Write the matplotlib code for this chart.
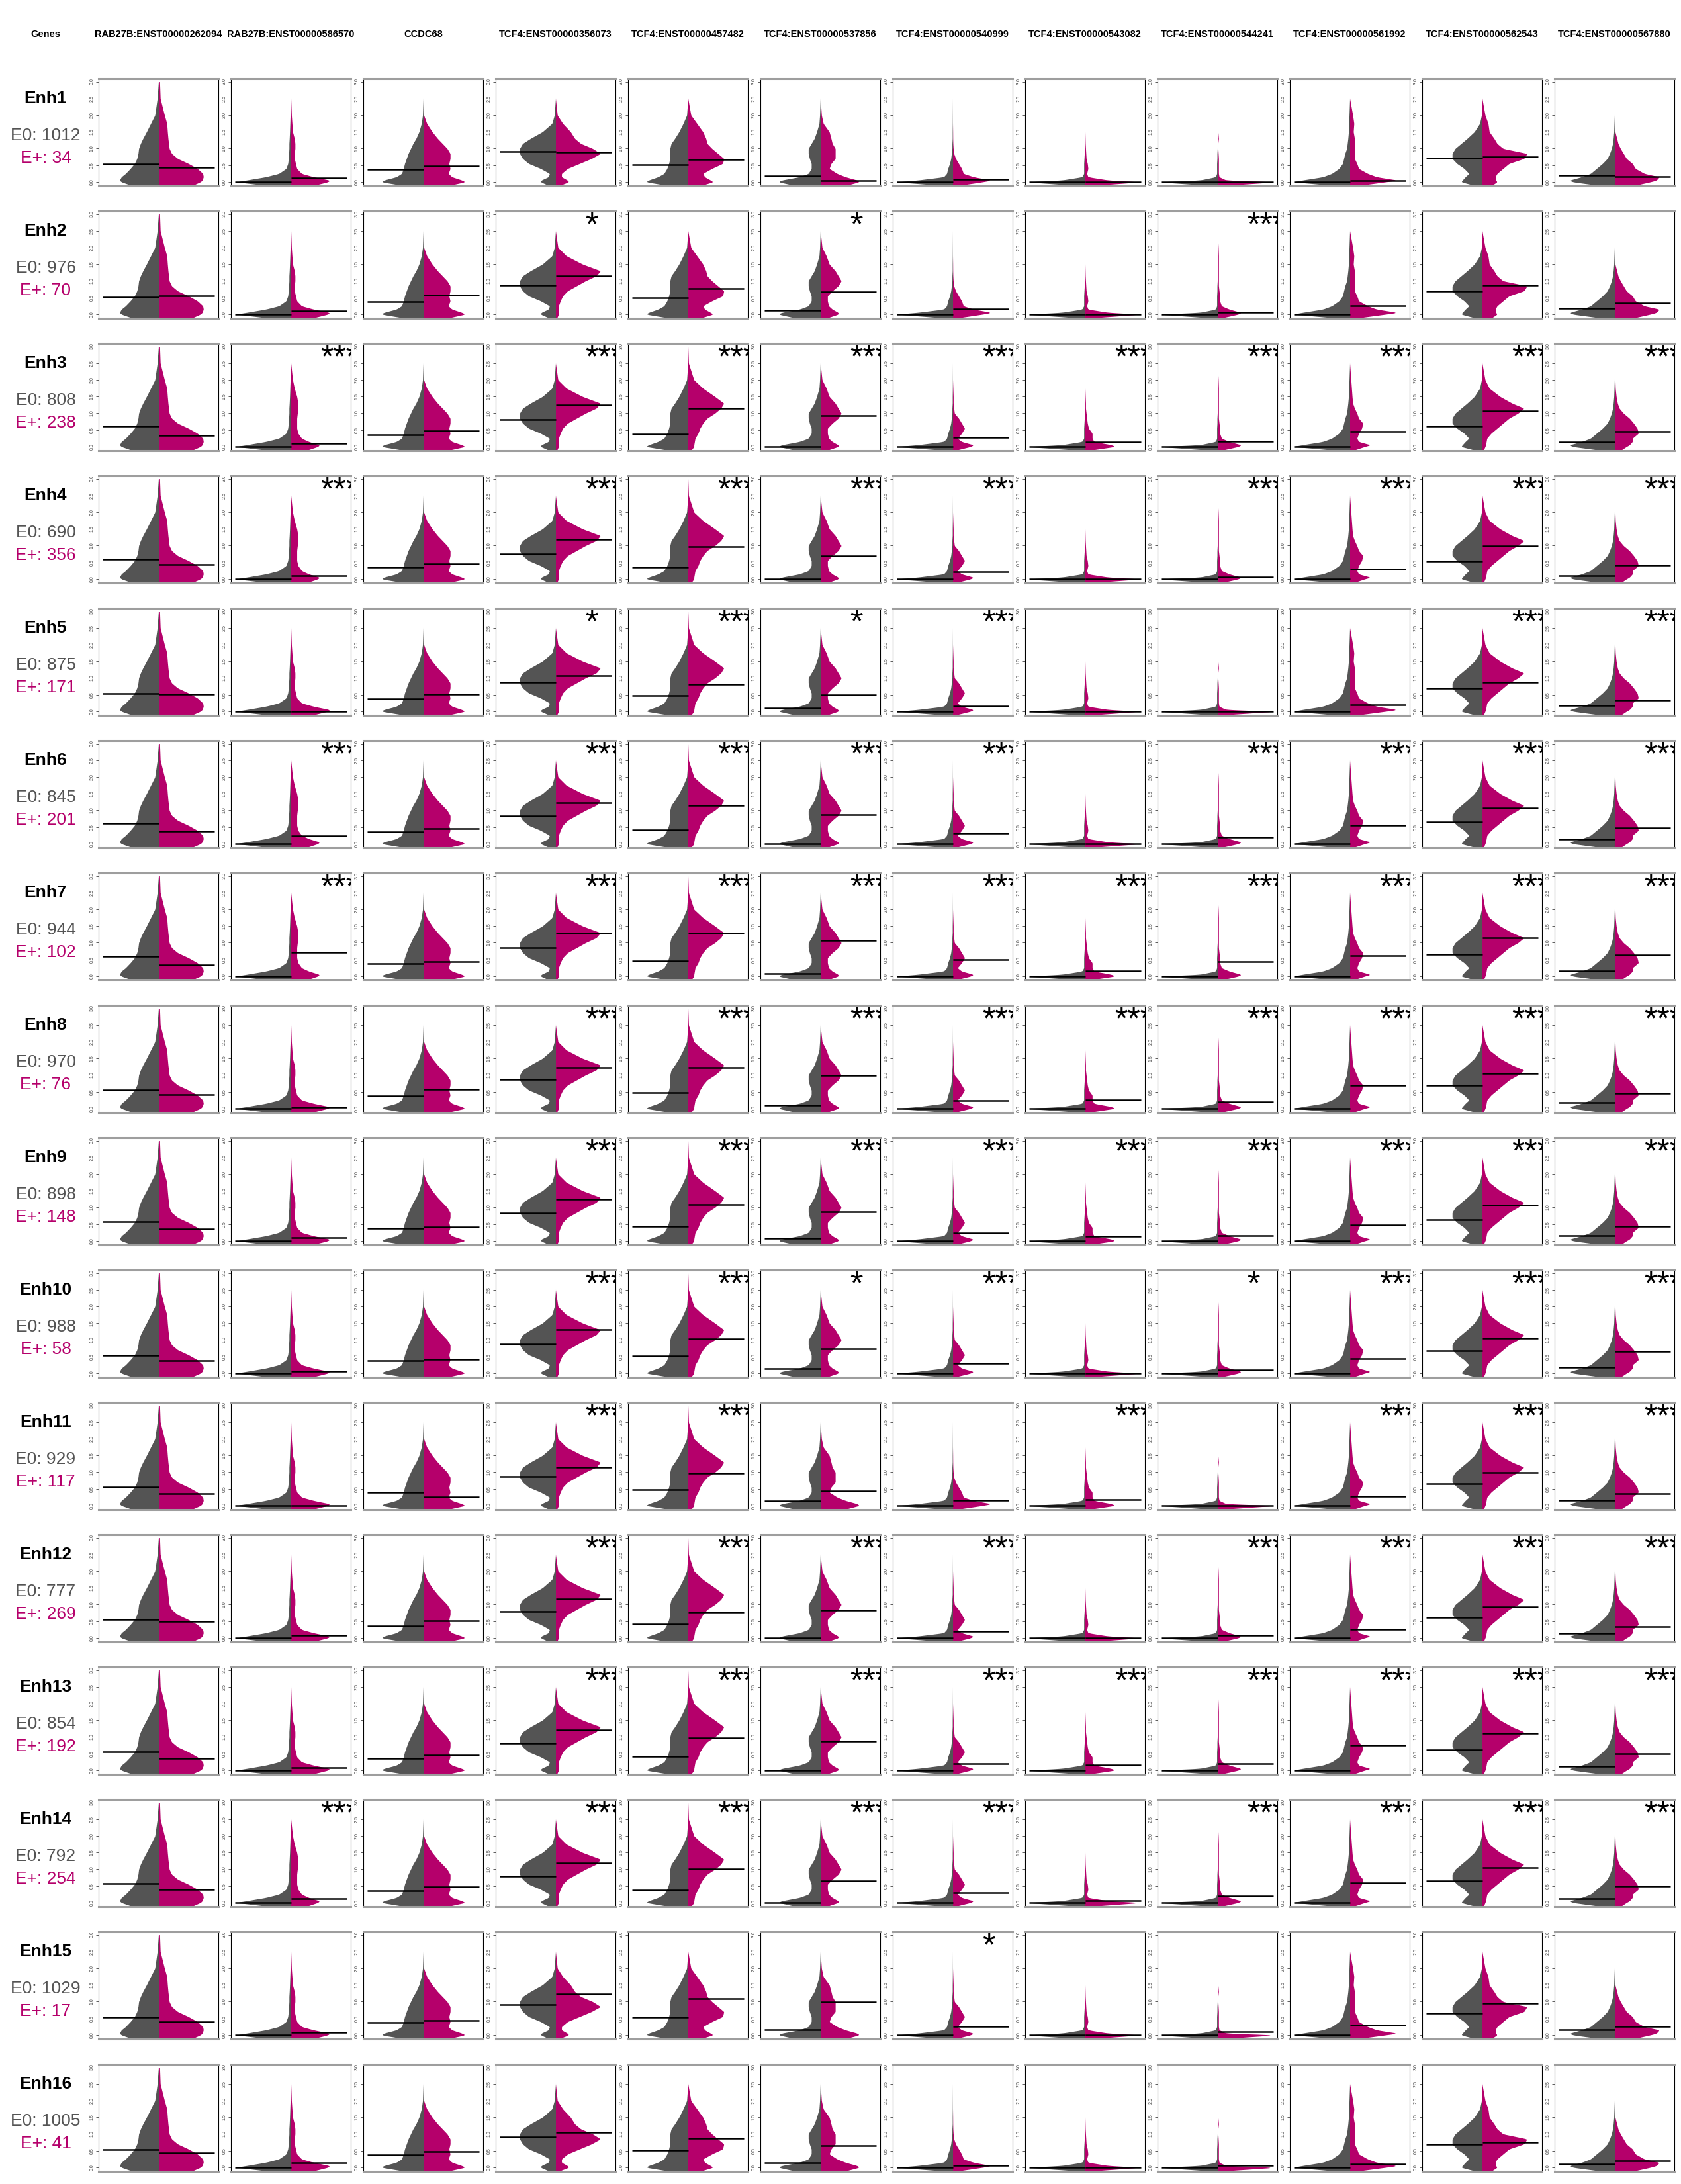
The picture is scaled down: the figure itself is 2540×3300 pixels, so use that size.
import matplotlib
matplotlib.use("Agg")
import matplotlib.pyplot as plt
import numpy as np

plt.rcParams['font.family'] = ['Liberation Sans', 'DejaVu Sans']

# ---- data ----
genes = ["RAB27B:ENST00000262094", "RAB27B:ENST00000586570", "CCDC68",
         "TCF4:ENST00000356073", "TCF4:ENST00000457482", "TCF4:ENST00000537856",
         "TCF4:ENST00000540999", "TCF4:ENST00000543082", "TCF4:ENST00000544241",
         "TCF4:ENST00000561992", "TCF4:ENST00000562543", "TCF4:ENST00000567880"]

enhancers = ["Enh1", "Enh2", "Enh3", "Enh4", "Enh5", "Enh6", "Enh7", "Enh8",
             "Enh9", "Enh10", "Enh11", "Enh12", "Enh13", "Enh14", "Enh15", "Enh16"]
n_e0 = [1012, 976, 808, 690, 875, 845, 944, 970, 898, 988, 929, 777, 854, 792, 1029, 1005]
n_eplus = [34, 70, 238, 356, 171, 201, 102, 76, 148, 58, 117, 269, 192, 254, 17, 41]

# mean expression of E0 cells (horizontal line, left half)
mean_e0 = [
    [0.53, 0, 0.38, 0.91, 0.52, 0.17, 0, 0, 0, 0, 0.71, 0.20],
    [0.52, 0, 0.37, 0.88, 0.50, 0.11, 0, 0, 0, 0, 0.69, 0.18],
    [0.62, 0, 0.35, 0.81, 0.38, 0.00, 0, 0, 0, 0, 0.61, 0.13],
    [0.59, 0, 0.36, 0.75, 0.36, 0.00, 0, 0, 0, 0, 0.53, 0.10],
    [0.54, 0, 0.38, 0.88, 0.47, 0.10, 0, 0, 0, 0, 0.69, 0.17],
    [0.61, 0, 0.36, 0.83, 0.42, 0.00, 0, 0, 0, 0, 0.65, 0.14],
    [0.59, 0, 0.37, 0.86, 0.46, 0.08, 0, 0, 0, 0, 0.66, 0.16],
    [0.55, 0, 0.37, 0.88, 0.48, 0.10, 0, 0, 0, 0, 0.69, 0.17],
    [0.57, 0, 0.37, 0.84, 0.43, 0.08, 0, 0, 0, 0, 0.64, 0.15],
    [0.54, 0, 0.38, 0.88, 0.51, 0.13, 0, 0, 0, 0, 0.68, 0.17],
    [0.55, 0, 0.40, 0.87, 0.47, 0.14, 0, 0, 0, 0, 0.66, 0.16],
    [0.55, 0, 0.35, 0.79, 0.42, 0.00, 0, 0, 0, 0, 0.62, 0.14],
    [0.56, 0, 0.36, 0.82, 0.41, 0.00, 0, 0, 0, 0, 0.62, 0.12],
    [0.58, 0, 0.36, 0.80, 0.38, 0.00, 0, 0, 0, 0, 0.65, 0.12],
    [0.54, 0, 0.38, 0.91, 0.53, 0.15, 0, 0, 0, 0, 0.65, 0.15],
    [0.53, 0, 0.38, 0.91, 0.52, 0.14, 0, 0, 0, 0, 0.70, 0.10],
]

# mean expression of E+ cells (horizontal line, right half)
mean_eplus = [
    [0.43, 0.11, 0.48, 0.90, 0.67, 0.03, 0.07, 0.00, 0.00, 0.04, 0.76, 0.16],
    [0.56, 0.10, 0.57, 1.15, 0.78, 0.67, 0.16, 0.00, 0.06, 0.26, 0.88, 0.34],
    [0.33, 0.10, 0.47, 1.24, 1.15, 0.93, 0.28, 0.13, 0.16, 0.46, 1.06, 0.45],
    [0.43, 0.10, 0.45, 1.18, 0.97, 0.70, 0.22, 0.00, 0.06, 0.30, 0.98, 0.42],
    [0.51, 0.00, 0.51, 1.07, 0.82, 0.50, 0.16, 0.00, 0.00, 0.19, 0.87, 0.33],
    [0.38, 0.24, 0.45, 1.23, 1.15, 0.87, 0.31, 0.00, 0.20, 0.55, 1.06, 0.47],
    [0.33, 0.72, 0.43, 1.29, 1.29, 1.06, 0.49, 0.16, 0.43, 0.61, 1.15, 0.63],
    [0.41, 0.04, 0.58, 1.22, 1.22, 0.99, 0.23, 0.26, 0.19, 0.70, 1.05, 0.45],
    [0.35, 0.10, 0.42, 1.25, 1.08, 0.87, 0.23, 0.13, 0.16, 0.47, 1.07, 0.43],
    [0.37, 0.06, 0.42, 1.30, 1.03, 0.73, 0.29, 0.00, 0.09, 0.44, 1.05, 0.66],
    [0.35, 0.00, 0.26, 1.14, 0.97, 0.44, 0.15, 0.17, 0.00, 0.28, 0.98, 0.36],
    [0.49, 0.07, 0.51, 1.17, 0.77, 0.84, 0.19, 0.00, 0.08, 0.26, 0.94, 0.33],
    [0.35, 0.08, 0.45, 1.20, 0.96, 0.88, 0.20, 0.15, 0.20, 0.75, 1.10, 0.50],
    [0.40, 0.12, 0.47, 1.18, 1.00, 0.65, 0.30, 0.05, 0.20, 0.60, 1.05, 0.50],
    [0.39, 0.07, 0.43, 1.22, 1.08, 0.98, 0.25, 0.00, 0.10, 0.30, 0.95, 0.25],
    [0.43, 0.14, 0.47, 1.04, 0.88, 0.65, 0.05, 0.00, 0.05, 0.10, 0.75, 0.20],
]

# number of stars per cell (0, 1 or 3)
stars = [
    [0, 0, 0, 0, 0, 0, 0, 0, 0, 0, 0, 0],
    [0, 0, 0, 1, 0, 1, 0, 0, 3, 0, 0, 0],
    [0, 3, 0, 3, 3, 3, 3, 3, 3, 3, 3, 3],
    [0, 3, 0, 3, 3, 3, 3, 0, 3, 3, 3, 3],
    [0, 0, 0, 1, 3, 1, 3, 0, 0, 0, 3, 3],
    [0, 3, 0, 3, 3, 3, 3, 0, 3, 3, 3, 3],
    [0, 3, 0, 3, 3, 3, 3, 3, 3, 3, 3, 3],
    [0, 0, 0, 3, 3, 3, 3, 3, 3, 3, 3, 3],
    [0, 0, 0, 3, 3, 3, 3, 3, 3, 3, 3, 3],
    [0, 0, 0, 3, 3, 1, 3, 0, 1, 3, 3, 3],
    [0, 0, 0, 3, 3, 0, 0, 3, 0, 3, 3, 3],
    [0, 0, 0, 3, 3, 3, 3, 0, 3, 3, 3, 3],
    [0, 0, 0, 3, 3, 3, 3, 3, 3, 3, 3, 3],
    [0, 3, 0, 3, 3, 3, 3, 0, 3, 3, 3, 3],
    [0, 0, 0, 0, 0, 0, 1, 0, 0, 0, 0, 0],
    [0, 0, 0, 0, 0, 0, 0, 0, 0, 0, 0, 0],
]

# violin half-widths (fraction of half a panel) at these expression levels
profile_y = [-0.12, 0.0, 0.05, 0.15, 0.25, 0.4, 0.55, 0.7, 0.85, 1.0,
             1.15, 1.3, 1.5, 1.75, 2.0, 2.5, 3.0]

width_e0 = [
    [0.43, 0.62, 0.65, 0.62, 0.55, 0.47, 0.40, 0.36, 0.34, 0.33, 0.30, 0.26, 0.20, 0.13, 0.06, 0.02, 0.0],
    [0.35, 0.92, 0.75, 0.42, 0.20, 0.08, 0.05, 0.04, 0.035, 0.03, 0.03, 0.025, 0.02, 0.015, 0.01, 0.0, 0.0],
    [0.30, 0.70, 0.66, 0.45, 0.36, 0.33, 0.31, 0.28, 0.25, 0.21, 0.17, 0.12, 0.07, 0.03, 0.01, 0.0, 0.0],
    [0.10, 0.25, 0.24, 0.12, 0.10, 0.25, 0.45, 0.55, 0.60, 0.60, 0.55, 0.42, 0.22, 0.06, 0.02, 0.0, 0.0],
    [0.30, 0.70, 0.66, 0.50, 0.40, 0.35, 0.32, 0.30, 0.30, 0.30, 0.28, 0.22, 0.15, 0.08, 0.02, 0.0, 0.0],
    [0.40, 0.70, 0.65, 0.35, 0.20, 0.15, 0.15, 0.18, 0.20, 0.20, 0.15, 0.10, 0.06, 0.02, 0.01, 0.0, 0.0],
    [0.10, 0.95, 0.60, 0.15, 0.10, 0.08, 0.05, 0.03, 0.02, 0.01, 0.01, 0.005, 0.005, 0.003, 0.002, 0.0, 0.0],
    [0.05, 1.00, 0.40, 0.05, 0.02, 0.02, 0.02, 0.015, 0.01, 0.01, 0.005, 0.005, 0.002, 0.0, 0.0, 0.0, 0.0],
    [0.05, 1.00, 0.30, 0.03, 0.01, 0.01, 0.01, 0.005, 0.005, 0.0, 0.0, 0.0, 0.0, 0.0, 0.0, 0.0, 0.0],
    [0.20, 0.95, 0.80, 0.45, 0.30, 0.18, 0.12, 0.10, 0.08, 0.05, 0.04, 0.03, 0.02, 0.015, 0.01, 0.0, 0.0],
    [0.10, 0.35, 0.33, 0.28, 0.22, 0.30, 0.42, 0.50, 0.50, 0.45, 0.35, 0.25, 0.13, 0.04, 0.01, 0.0, 0.0],
    [0.20, 0.70, 0.75, 0.55, 0.40, 0.30, 0.20, 0.12, 0.08, 0.05, 0.03, 0.02, 0.01, 0.005, 0.0, 0.0, 0.0],
]

# E+ shape when the difference is not significant
width_eplus_ns = [
    [0.55, 0.70, 0.73, 0.75, 0.74, 0.65, 0.50, 0.32, 0.22, 0.18, 0.17, 0.16, 0.15, 0.14, 0.10, 0.03, 0.02],
    [0.35, 0.62, 0.65, 0.38, 0.18, 0.10, 0.08, 0.06, 0.06, 0.07, 0.07, 0.06, 0.03, 0.02, 0.01, 0.0, 0.0],
    [0.40, 0.70, 0.65, 0.48, 0.42, 0.45, 0.43, 0.45, 0.45, 0.40, 0.32, 0.24, 0.15, 0.06, 0.01, 0.0, 0.0],
    [0.05, 0.22, 0.20, 0.10, 0.10, 0.20, 0.40, 0.60, 0.75, 0.62, 0.42, 0.32, 0.25, 0.12, 0.03, 0.0, 0.0],
    [0.20, 0.42, 0.38, 0.28, 0.25, 0.40, 0.58, 0.60, 0.50, 0.40, 0.32, 0.30, 0.25, 0.15, 0.05, 0.0, 0.0],
    [0.40, 0.65, 0.62, 0.42, 0.28, 0.15, 0.18, 0.25, 0.25, 0.25, 0.20, 0.18, 0.15, 0.05, 0.02, 0.0, 0.0],
    [0.05, 0.50, 0.65, 0.35, 0.18, 0.15, 0.10, 0.05, 0.02, 0.01, 0.005, 0.003, 0.002, 0.0, 0.0, 0.0, 0.0],
    [0.05, 0.95, 0.40, 0.05, 0.03, 0.05, 0.04, 0.02, 0.015, 0.01, 0.005, 0.003, 0.0, 0.0, 0.0, 0.0, 0.0],
    [0.02, 1.00, 0.15, 0.03, 0.02, 0.02, 0.02, 0.02, 0.015, 0.01, 0.01, 0.02, 0.01, 0.005, 0.003, 0.0, 0.0],
    [0.10, 0.60, 0.80, 0.45, 0.30, 0.15, 0.12, 0.08, 0.08, 0.08, 0.08, 0.08, 0.06, 0.07, 0.05, 0.0, 0.0],
    [0.15, 0.25, 0.23, 0.22, 0.25, 0.35, 0.45, 0.70, 0.75, 0.35, 0.25, 0.20, 0.12, 0.10, 0.05, 0.0, 0.0],
    [0.30, 0.60, 0.70, 0.75, 0.50, 0.35, 0.30, 0.20, 0.15, 0.10, 0.06, 0.04, 0.01, 0.005, 0.003, 0.002, 0.0],
]

# E+ shape when the difference is significant
width_eplus_sig = [
    [0.55, 0.70, 0.73, 0.75, 0.74, 0.65, 0.50, 0.32, 0.22, 0.18, 0.17, 0.16, 0.15, 0.14, 0.10, 0.03, 0.02],
    [0.25, 0.45, 0.48, 0.30, 0.18, 0.12, 0.10, 0.10, 0.10, 0.11, 0.12, 0.12, 0.10, 0.06, 0.03, 0.0, 0.0],
    [0.40, 0.70, 0.65, 0.48, 0.42, 0.45, 0.43, 0.45, 0.45, 0.40, 0.32, 0.24, 0.15, 0.06, 0.01, 0.0, 0.0],
    [0.02, 0.05, 0.05, 0.05, 0.05, 0.08, 0.12, 0.20, 0.35, 0.50, 0.68, 0.75, 0.45, 0.18, 0.04, 0.0, 0.0],
    [0.05, 0.10, 0.10, 0.11, 0.12, 0.17, 0.20, 0.25, 0.32, 0.45, 0.55, 0.60, 0.45, 0.25, 0.10, 0.01, 0.0],
    [0.10, 0.30, 0.30, 0.20, 0.14, 0.12, 0.12, 0.20, 0.30, 0.35, 0.30, 0.25, 0.15, 0.10, 0.03, 0.0, 0.0],
    [0.03, 0.30, 0.35, 0.15, 0.08, 0.15, 0.20, 0.15, 0.10, 0.03, 0.02, 0.01, 0.01, 0.005, 0.0, 0.0, 0.0],
    [0.05, 0.50, 0.45, 0.15, 0.12, 0.12, 0.06, 0.04, 0.03, 0.02, 0.01, 0.01, 0.005, 0.0, 0.0, 0.0, 0.0],
    [0.05, 0.35, 0.40, 0.20, 0.07, 0.04, 0.04, 0.03, 0.02, 0.02, 0.02, 0.02, 0.02, 0.02, 0.015, 0.0, 0.0],
    [0.05, 0.25, 0.35, 0.15, 0.12, 0.15, 0.20, 0.22, 0.15, 0.12, 0.08, 0.05, 0.04, 0.03, 0.02, 0.0, 0.0],
    [0.02, 0.05, 0.06, 0.07, 0.08, 0.15, 0.25, 0.35, 0.45, 0.60, 0.70, 0.50, 0.30, 0.12, 0.05, 0.0, 0.0],
    [0.10, 0.20, 0.25, 0.30, 0.30, 0.40, 0.38, 0.32, 0.25, 0.15, 0.08, 0.05, 0.03, 0.015, 0.01, 0.01, 0.0],
]

GRAY = '#545454'
MAGENTA = '#B5006B'

W, H = 2540, 3300
fig = plt.figure(figsize=(W / 100, H / 100), dpi=100)

# panel geometry in pixels
x0, y0 = 149, 119
pitch_x, pitch_y = 200, 200
pw, ph = 181, 162
ylo, yhi = -0.12, 3.09

yy = np.linspace(-0.12, 3.0, 625)
kernel = np.ones(9) / 9


def smooth_profile(widths):
    w = np.interp(yy, profile_y, widths)
    w = np.convolve(np.pad(w, 4, mode='edge'), kernel, mode='valid')
    return w


# column headers
fig.text(69 / W, 1 - 52 / H, "Genes", ha='center', va='center',
         fontsize=10.5, fontweight='bold')
for c, g in enumerate(genes):
    cx = x0 + c * pitch_x + pw / 2
    fig.text(cx / W, 1 - 52 / H, g, ha='center', va='center',
             fontsize=10.5, fontweight='bold')

for r in range(len(enhancers)):
    top = y0 + r * pitch_y
    fig.text(69 / W, 1 - (top + 30) / H, enhancers[r], ha='center', va='center',
             fontsize=19, fontweight='bold', color='black')
    fig.text(69 / W, 1 - (top + 86) / H, f"E0: {n_e0[r]}", ha='center', va='center',
             fontsize=19, color=GRAY)
    fig.text(69 / W, 1 - (top + 120) / H, f"E+: {n_eplus[r]}", ha='center', va='center',
             fontsize=19, color=MAGENTA)

    for c in range(len(genes)):
        left = x0 + c * pitch_x
        ax = fig.add_axes([left / W, 1 - (top + ph) / H, pw / W, ph / H])
        ax.set_xlim(0, 1)
        ax.set_ylim(ylo, yhi)

        w0 = smooth_profile(width_e0[c]) * 0.5
        if stars[r][c]:
            wp = smooth_profile(width_eplus_sig[c]) * 0.5
        else:
            wp = smooth_profile(width_eplus_ns[c]) * 0.5
        ax.fill_betweenx(yy, 0.5 - w0, 0.5, color=GRAY, lw=0)
        ax.fill_betweenx(yy, 0.5, 0.5 + wp, color=MAGENTA, lw=0)

        ax.hlines(mean_e0[r][c], 0.035, 0.5, color='black', lw=1.8)
        ax.hlines(mean_eplus[r][c], 0.5, 0.965, color='black', lw=1.8)

        if stars[r][c]:
            ax.text(0.745, 1.0, '*' * stars[r][c], transform=ax.transAxes,
                    ha='left', va='top', fontsize=36, clip_on=True)

        ax.set_xticks([])
        ticks = [0.0, 0.5, 1.0, 1.5, 2.0, 2.5, 3.0]
        ax.set_yticks(ticks)
        ax.set_yticklabels([f"{t:.1f}" for t in ticks], rotation=90,
                           va='center', fontsize=5, color='#444444')
        ax.tick_params(axis='y', length=3, width=0.6, pad=1.5, colors='#444444')
        for side in ['top', 'bottom']:
            ax.spines[side].set_color('#9E9E9E')
            ax.spines[side].set_linewidth(2.2)
        for side in ['left', 'right']:
            ax.spines[side].set_color('black')
            ax.spines[side].set_linewidth(0.8)

fig.savefig("out.png", dpi=100, facecolor='white')
